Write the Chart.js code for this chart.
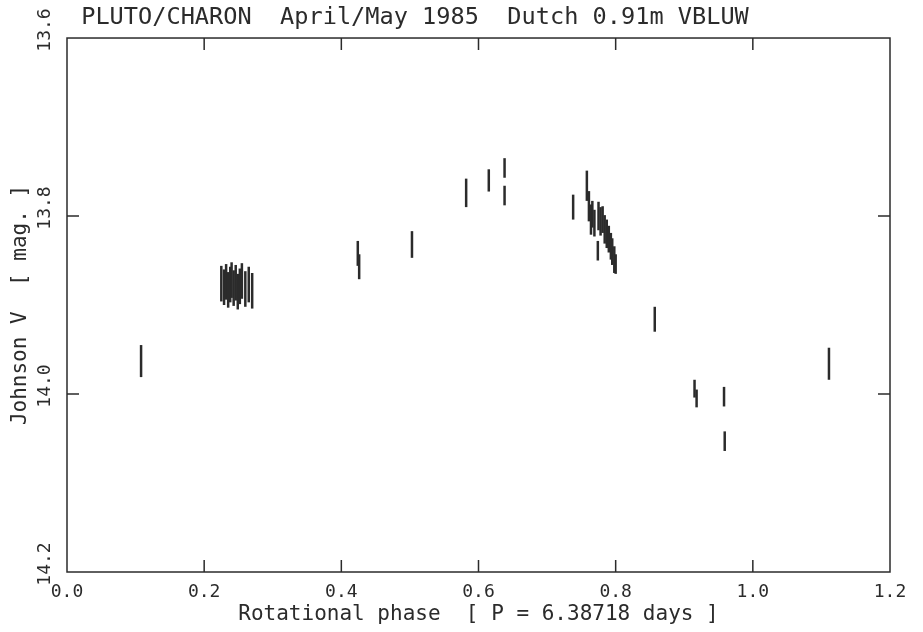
<!DOCTYPE html>
<html>
<head>
<meta charset="utf-8">
<title>Pluto/Charon light curve</title>
<script src="https://cdn.jsdelivr.net/npm/chart.js@4/dist/chart.umd.min.js"></script>
<style>
  html, body { margin: 0; padding: 0; background: #fff; }
  #wrap { width: 923px; height: 632px; }
</style>
</head>
<body>
<div id="wrap"><canvas id="lc"></canvas></div>
<script>
// rotational phase, Johnson V magnitude and half length of each error bar (mag)
const phase = [
  0.108,
  0.225, 0.229, 0.232, 0.235, 0.238, 0.240, 0.243, 0.246, 0.249, 0.252, 0.255, 0.260, 0.265, 0.270,
  0.424, 0.426, 0.503, 0.582, 0.615, 0.638, 0.638, 0.738,
  0.758, 0.761, 0.764, 0.766, 0.769, 0.774, 0.775, 0.778, 0.781, 0.784, 0.787, 0.790, 0.793, 0.795, 0.798, 0.800,
  0.857, 0.915, 0.918, 0.958, 0.959, 1.111
];
const vmag = [
  13.963,
  13.876, 13.880, 13.874, 13.883, 13.877, 13.872, 13.881, 13.875, 13.885, 13.879, 13.873, 13.882, 13.877, 13.884,
  13.842, 13.857, 13.832, 13.774, 13.760, 13.746, 13.777, 13.790,
  13.766, 13.789, 13.804, 13.798, 13.808, 13.839, 13.800, 13.806, 13.804, 13.815, 13.820, 13.826, 13.834, 13.840, 13.849, 13.854,
  13.916, 13.994, 14.005, 14.003, 14.053, 13.966
];
const verr = [
  0.018,
  0.020, 0.020, 0.020, 0.020, 0.020, 0.020, 0.020, 0.020, 0.020, 0.020, 0.020, 0.020, 0.020, 0.020,
  0.014, 0.014, 0.015, 0.016, 0.0125, 0.011, 0.011, 0.014,
  0.017, 0.017, 0.017, 0.015, 0.015, 0.011, 0.016, 0.016, 0.015, 0.016, 0.016, 0.015, 0.015, 0.015, 0.015, 0.011,
  0.014, 0.010, 0.010, 0.011, 0.011, 0.018
];

const INK = '#2b2b2b';
const MONO = "'DejaVu Sans Mono', 'Liberation Mono', monospace";
const TICK = 12;

// box round the plot with inward ticks on every side
const frame = {
  id: 'frame',
  beforeDatasetsDraw(chart) {
    const { ctx, chartArea: a, scales: { x, y } } = chart;
    ctx.save();
    ctx.strokeStyle = INK;
    ctx.lineWidth = 1.5;
    ctx.strokeRect(a.left, a.top, a.right - a.left, a.bottom - a.top);
    ctx.beginPath();
    x.ticks.forEach(t => {
      const px = x.getPixelForValue(t.value);
      if (px <= a.left + 1 || px >= a.right - 1) return;
      ctx.moveTo(px, a.top); ctx.lineTo(px, a.top + TICK);
      ctx.moveTo(px, a.bottom); ctx.lineTo(px, a.bottom - TICK);
    });
    y.ticks.forEach(t => {
      const py = y.getPixelForValue(t.value);
      if (py <= a.top + 1 || py >= a.bottom - 1) return;
      ctx.moveTo(a.left, py); ctx.lineTo(a.left + TICK, py);
      ctx.moveTo(a.right, py); ctx.lineTo(a.right - TICK, py);
    });
    ctx.stroke();
    ctx.restore();
  }
};

new Chart(document.getElementById('lc'), {
  type: 'scatter',
  data: {
    datasets: [{
      label: 'V',
      data: phase.map((p, i) => ({ x: p, y: vmag[i] })),
      pointStyle: 'line',
      rotation: 90,
      borderColor: INK,
      backgroundColor: INK,
      borderWidth: 2.5,
      // bar length follows the error through the y scale
      pointRadius: c => {
        if (c.dataIndex === undefined) return 10;
        const s = c.chart.scales.y;
        const i = c.dataIndex;
        return Math.abs(s.getPixelForValue(vmag[i] + verr[i]) - s.getPixelForValue(vmag[i]));
      }
    }]
  },
  options: {
    responsive: true,
    maintainAspectRatio: false,
    animation: false,
    layout: { padding: { top: 0, right: 33, bottom: 0, left: 0 } },
    plugins: {
      legend: { display: false },
      tooltip: { enabled: false },
      title: {
        display: true,
        fullSize: false,
        align: 'start',
        text: ' PLUTO/CHARON  April/May 1985  Dutch 0.91m VBLUW',
        color: INK,
        font: { family: MONO, size: 23.6, weight: 'normal' },
        padding: { top: 4, bottom: 5.7 }
      }
    },
    scales: {
      x: {
        type: 'linear',
        min: 0, max: 1.2,
        grid: { display: false, drawTicks: false },
        border: { display: false },
        afterFit: s => { s.height = 60; },
        ticks: {
          stepSize: 0.2,
          padding: 10,
          color: INK,
          font: { family: MONO, size: 18 },
          callback: v => v.toFixed(1)
        },
        title: {
          display: true,
          text: 'Rotational phase  [ P = 6.38718 days ]',
          color: INK,
          font: { family: MONO, size: 21 },
          padding: { top: 0, bottom: 5 }
        }
      },
      y: {
        type: 'linear',
        reverse: true,
        min: 13.6, max: 14.2,
        grid: { display: false, drawTicks: false },
        border: { display: false },
        afterFit: s => { s.width = 67; },
        ticks: {
          stepSize: 0.2,
          padding: 0,
          labelOffset: -8,
          minRotation: 90,
          maxRotation: 90,
          autoSkip: false,
          crossAlign: 'center',
          color: INK,
          font: { family: MONO, size: 18 },
          callback: v => v.toFixed(1)
        },
        title: {
          display: true,
          text: 'Johnson V  [ mag. ]',
          color: INK,
          font: { family: MONO, size: 21 },
          padding: { top: 8, bottom: 0 }
        }
      }
    }
  },
  plugins: [frame]
});
</script>
</body>
</html>
